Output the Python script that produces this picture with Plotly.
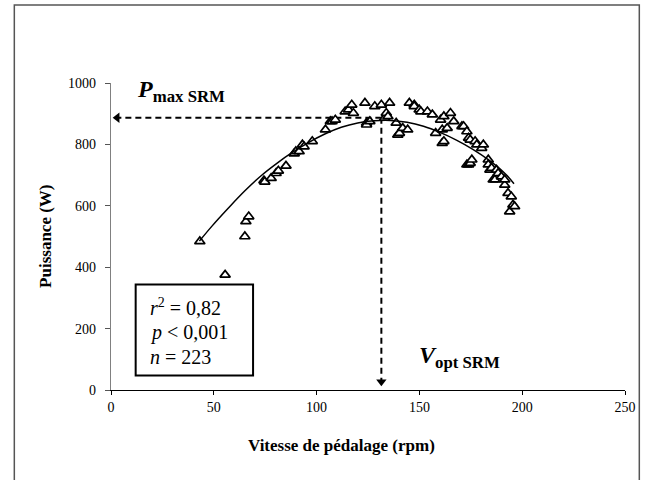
import plotly.graph_objects as go

# ---- data ----
speed_rpm = [43.2, 55.5, 65.1, 65.6, 67.0, 74.4, 74.8, 77.9, 80.3, 81.4, 85.1, 89.1, 89.9,
             91.5, 93.1, 93.9, 97.9, 104.3, 106.7, 107.5, 109.1, 113.9, 115.5, 117.1, 117.9,
             123.5, 124.3, 124.3, 125.9, 128.3, 131.5, 133.1, 133.9, 134.7, 135.5, 138.7,
             139.5, 140.3, 141.9, 144.3, 145.1, 147.5, 147.5, 149.9, 150.7, 153.9, 156.3,
             157.9, 160.3, 161.1, 161.1, 161.9, 161.9, 163.5, 165.1, 166.7, 170.7, 171.5,
             173.1, 173.9, 174.7, 173.1, 173.9, 174.7, 175.5, 177.1, 177.9, 180.3, 181.1,
             183.5, 183.5, 184.3, 185.1, 185.9, 186.7, 187.5, 188.3, 189.9, 191.5, 191.5,
             193.1, 194.7, 195.5, 193.9, 196.3]
power_w = [484, 375, 500, 549, 565, 682, 678, 690, 706, 714, 730, 770, 777,
           777, 799, 793, 810, 848, 875, 875, 880, 907, 913, 929, 902,
           935, 870, 864, 875, 924, 929, 886, 902, 891, 935, 870,
           831, 837, 853, 848, 935, 929, 924, 913, 907, 907, 897,
           837, 880, 848, 804, 810, 891, 853, 902, 875, 859, 859,
           842, 821, 815, 734, 734, 739, 750, 810, 799, 788, 799,
           750, 734, 717, 723, 685, 685, 717, 706, 695, 668, 685,
           641, 630, 603, 581, 598]

fit_x = [43, 49, 57, 65, 73, 81, 88, 96, 104, 112, 120, 128, 136, 144, 152, 160, 168, 176, 184, 192, 196]
fit_y = [485, 533, 592, 648, 698, 740, 773, 806, 834, 856, 870, 877, 878, 872, 859, 839, 814, 784, 748, 703, 672]

P_MAX = 887      # W
V_OPT = 131.5    # rpm

x_ticks = [0, 50, 100, 150, 200, 250]
y_ticks = [0, 200, 400, 600, 800, 1000]

stats_lines = ["<i>r</i><sup>2</sup> = 0,82", "<i>p</i> < 0,001", "<i>n</i> = 223"]

SERIF = "Liberation Serif, Times New Roman, serif"

fig = go.Figure()

# dashed guide lines
fig.add_trace(go.Scatter(x=[V_OPT, 3], y=[P_MAX, P_MAX], mode="lines",
                         line=dict(color="black", width=2, dash="6px,4px"),
                         hoverinfo="skip", showlegend=False))
fig.add_trace(go.Scatter(x=[V_OPT, V_OPT], y=[P_MAX, 30], mode="lines",
                         line=dict(color="black", width=2, dash="6px,4px"),
                         hoverinfo="skip", showlegend=False))
# arrowheads
fig.add_trace(go.Scatter(x=[3], y=[P_MAX], mode="markers",
                         marker=dict(symbol="triangle-left", size=9, color="black"),
                         hoverinfo="skip", showlegend=False, cliponaxis=False))
fig.add_trace(go.Scatter(x=[V_OPT], y=[27], mode="markers",
                         marker=dict(symbol="triangle-down", size=9, color="black"),
                         hoverinfo="skip", showlegend=False, cliponaxis=False))

# data points
fig.add_trace(go.Scatter(x=speed_rpm, y=power_w, mode="markers",
                         marker=dict(symbol="triangle-up", size=9, color="white",
                                     line=dict(color="black", width=1.7)),
                         showlegend=False))
# fitted curve
fig.add_trace(go.Scatter(x=fit_x, y=fit_y, mode="lines", line_shape="spline",
                         line=dict(color="black", width=1.5), showlegend=False))

L, R, T, B = 111, 16, 83, 90
PW, PH = 648 - L - R, 480 - T - B


def px_to_paper_x(px):
    return (px - L) / PW


def px_to_paper_y(py):
    return (480 - B - py) / PH


shapes = [
    # outer frame
    dict(type="rect", xref="paper", yref="paper",
         x0=px_to_paper_x(13), x1=px_to_paper_x(646.5),
         y0=px_to_paper_y(484), y1=px_to_paper_y(5),
         line=dict(color="#555", width=1.5), fillcolor="rgba(0,0,0,0)", layer="below"),
    # stats box
    dict(type="rect", xref="paper", yref="paper",
         x0=px_to_paper_x(136), x1=px_to_paper_x(255),
         y0=px_to_paper_y(375.5), y1=px_to_paper_y(284.5),
         line=dict(color="black", width=2), fillcolor="white", layer="above"),
]

annotations = []
for i, t in enumerate(stats_lines):
    annotations.append(dict(xref="paper", yref="paper", x=px_to_paper_x(149),
                            y=px_to_paper_y(307 + 25 * i), text=t, showarrow=False,
                            xanchor="left", yanchor="middle",
                            font=dict(family=SERIF, size=20, color="black")))

annotations += [
    dict(xref="paper", yref="paper", x=px_to_paper_x(135), y=px_to_paper_y(108),
         text="<b><i>P</i></b><sub><b>max SRM</b></sub>",
         showarrow=False, xanchor="left", yanchor="bottom",
         font=dict(family=SERIF, size=24, color="black")),
    dict(xref="paper", yref="paper", x=px_to_paper_x(421), y=px_to_paper_y(374),
         text="<b><i>V</i></b><sub><b>opt SRM</b></sub>",
         showarrow=False, xanchor="left", yanchor="bottom",
         font=dict(family=SERIF, size=24, color="black")),
    dict(xref="paper", yref="paper", x=px_to_paper_x(345), y=px_to_paper_y(445),
         text="<b>Vitesse de pédalage (rpm)</b>", showarrow=False,
         xanchor="center", yanchor="middle",
         font=dict(family=SERIF, size=17, color="black")),
    dict(xref="paper", yref="paper", x=px_to_paper_x(44), y=px_to_paper_y(236),
         text="<b>Puissance (W)</b>", showarrow=False, textangle=-90,
         xanchor="center", yanchor="middle",
         font=dict(family=SERIF, size=17, color="black")),
]

fig.update_layout(
    width=648, height=480,
    margin=dict(l=L, r=R, t=T, b=B, pad=0),
    paper_bgcolor="white", plot_bgcolor="white",
    font=dict(family=SERIF, size=14, color="black"),
    shapes=shapes, annotations=annotations,
    xaxis=dict(range=[0, 250], tickvals=x_ticks, showgrid=False, zeroline=False,
               showline=True, linecolor="black", linewidth=1.2,
               ticks="outside", ticklen=4, tickcolor="black", tickwidth=1,
               tickfont=dict(family=SERIF, size=14, color="black")),
    yaxis=dict(range=[0, 1000], tickvals=y_ticks, showgrid=False, zeroline=False,
               showline=True, linecolor="#808080", linewidth=1.2,
               ticks="outside", ticklen=5, tickcolor="#555", tickwidth=1,
               ticklabelstandoff=6,
               tickfont=dict(family=SERIF, size=14, color="black")),
)

fig.write_html("out.html")
